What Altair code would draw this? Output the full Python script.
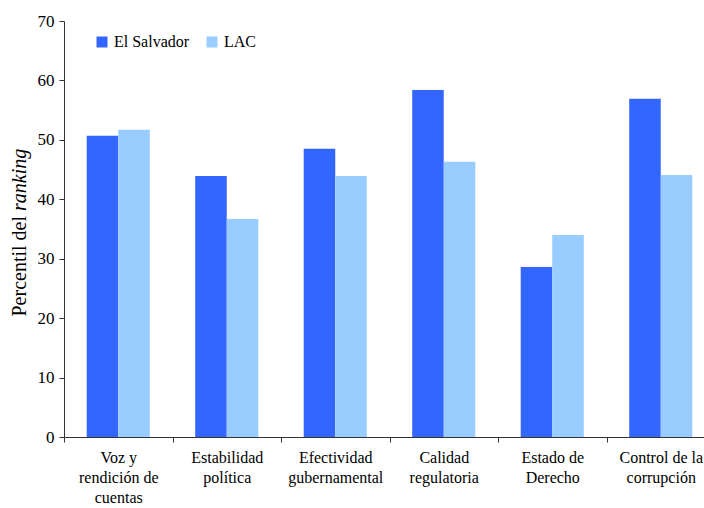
import altair as alt
import pandas as pd

# Governance indicators (percentile rank), El Salvador vs. Latin America & Caribbean
categories = [
    "Voz y\nrendición de\ncuentas",
    "Estabilidad\npolítica",
    "Efectividad\ngubernamental",
    "Calidad\nregulatoria",
    "Estado de\nDerecho",
    "Control de la\ncorrupción",
]
series = ["El Salvador", "LAC"]
el_salvador = [50.7, 43.9, 48.5, 58.4, 28.6, 56.9]
lac = [51.7, 36.7, 43.9, 46.3, 34.0, 44.1]
colors = ["#3366FF", "#99CCFF"]
y_ticks = [0, 10, 20, 30, 40, 50, 60, 70]

rows = []
for cat, a, b in zip(categories, el_salvador, lac):
    rows.append({"indicador": cat, "serie": series[0], "valor": a})
    rows.append({"indicador": cat, "serie": series[1], "valor": b})
df = pd.DataFrame(rows)

FONT = "Liberation Serif"
AXIS_COLOR = "#333333"

step = 108.5
x_range = [0, step * len(categories)]

bars = alt.Chart(df).mark_bar().encode(
    x=alt.X(
        "indicador:N",
        sort=categories,
        scale=alt.Scale(range=x_range, paddingInner=0, paddingOuter=0),
        axis=alt.Axis(
            title=None,
            labelAngle=0,
            labelExpr="isValid(datum.value) ? split(datum.value, '\\n') : ''",
            labelFont=FONT,
            labelFontSize=16,
            labelColor="#000000",
            labelLineHeight=20,
            labelBaseline="top",
            labelPadding=7,
            tickBand="extent",
            tickSize=5,
            tickColor=AXIS_COLOR,
            domainColor=AXIS_COLOR,
            labelLimit=0,
        ),
    ),
    xOffset=alt.XOffset(
        "serie:N",
        sort=series,
        scale=alt.Scale(range=[0, step], paddingInner=0, paddingOuter=0.72),
    ),
    y=alt.Y(
        "valor:Q",
        scale=alt.Scale(domain=[0, 70], nice=False),
        axis=alt.Axis(
            title=None,
            values=y_ticks,
            grid=False,
            labelFont=FONT,
            labelFontSize=17,
            labelColor="#000000",
            labelPadding=5,
            tickSize=5,
            tickColor=AXIS_COLOR,
            domainColor=AXIS_COLOR,
        ),
    ),
    color=alt.Color(
        "serie:N",
        sort=series,
        scale=alt.Scale(domain=series, range=colors),
        legend=alt.Legend(
            title=None,
            orient="none",
            legendX=30,
            legendY=13,
            direction="horizontal",
            symbolType="square",
            symbolSize=121,
            symbolStrokeWidth=0,
            labelFont=FONT,
            labelFontSize=16,
            labelColor="#000000",
            labelOffset=4,
            columnPadding=14,
            padding=0,
        ),
    ),
)

# y-axis title in two pieces so "ranking" can be set in italics
title_df = pd.DataFrame({"t": [0]})
title_plain = alt.Chart(title_df).mark_text(
    text="Percentil del",
    font=FONT,
    fontSize=20,
    angle=270,
    align="right",
    baseline="alphabetic",
    color="#000000",
).encode(x=alt.value(-38), y=alt.value(195))
title_italic = alt.Chart(title_df).mark_text(
    text="ranking",
    font=FONT,
    fontSize=20,
    fontStyle="italic",
    angle=270,
    align="left",
    baseline="alphabetic",
    color="#000000",
).encode(x=alt.value(-38), y=alt.value(190))

chart = (
    alt.layer(bars, title_plain, title_italic)
    .properties(
        width=640,
        height=416,
        autosize=alt.AutoSizeParams(type="none"),
        padding={"left": 64, "top": 21, "right": 0, "bottom": 71},
        background="#FFFFFF",
    )
    .configure_view(stroke=None)
)

chart.save("out.html", embed_options={"renderer": "svg", "actions": False})
